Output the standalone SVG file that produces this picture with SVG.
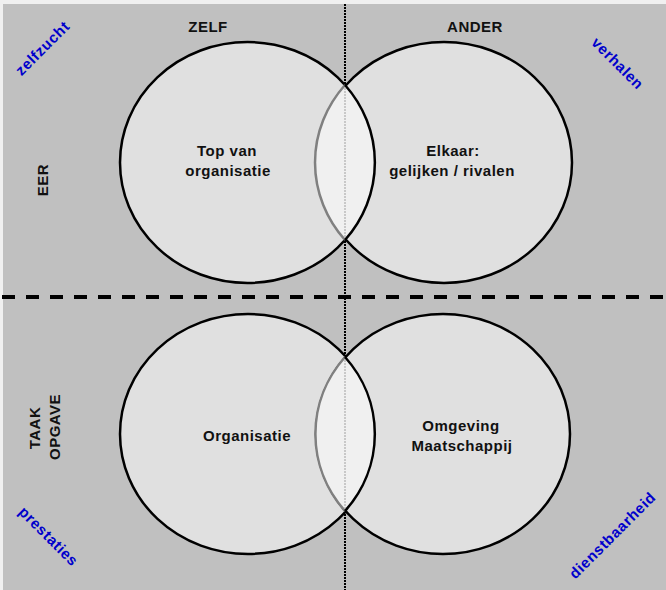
<svg xmlns="http://www.w3.org/2000/svg" width="666" height="590" viewBox="0 0 666 590">
<style>
.circ{fill:#e0e0e0;stroke:#000;stroke-width:2.5}
.lens{fill:#f0f0f0;stroke:none}
.garc{fill:none;stroke:#808080;stroke-width:2.5}
.barc{fill:none;stroke:#000;stroke-width:2.5}
.lbl{font-family:"Liberation Sans",Arial,sans-serif;font-weight:bold;font-size:15px;letter-spacing:0.5px;fill:#111;text-anchor:middle}
.blue{font-family:"Liberation Sans",Arial,sans-serif;font-weight:bold;font-size:15px;letter-spacing:0.6px;fill:#0000cc;text-anchor:middle}
</style>
<rect x="0" y="0" width="666" height="590" fill="#f0f0f0"/>
<rect x="3" y="4" width="663" height="586" fill="#c0c0c0"/>
<g id="vline"><line x1="345" y1="4" x2="345" y2="590" stroke="#000" stroke-width="2" stroke-dasharray="2 1"/></g>
<g id="top-left"><ellipse class="circ" cx="247.5" cy="162.5" rx="127.5" ry="120.5"/></g>
<g id="top-right"><ellipse class="circ" cx="444" cy="162.5" rx="128" ry="120.5"/></g>
<g id="top-lens">
<path class="lens" d="M345,85 A128,120.5 0 0 0 345,240 A127.5,120.5 0 0 0 345,85 Z"/>
<line x1="345" y1="88" x2="345" y2="237" stroke="#c8c8c8" stroke-width="2" stroke-dasharray="2 1"/>
<path class="garc" d="M345,85 A128,120.5 0 0 0 345,240"/>
<path class="barc" d="M345,240 A127.5,120.5 0 0 0 345,85"/>
</g>
<g id="bot-left"><ellipse class="circ" cx="248" cy="434" rx="128" ry="120"/></g>
<g id="bot-right"><ellipse class="circ" cx="443" cy="434" rx="127" ry="120"/></g>
<g id="bot-lens">
<path class="lens" d="M345,357 A127,120 0 0 0 345,511 A128,120 0 0 0 345,357 Z"/>
<line x1="345" y1="360" x2="345" y2="508" stroke="#c8c8c8" stroke-width="2" stroke-dasharray="2 1"/>
<path class="garc" d="M345,357 A127,120 0 0 0 345,511"/>
<path class="barc" d="M345,511 A128,120 0 0 0 345,357"/>
</g>
<g id="connectors">
<line x1="2" y1="297" x2="666" y2="297" stroke="#000" stroke-width="4" stroke-dasharray="13 11"/>
</g>
<g id="labels">
<text class="lbl" x="208" y="32">ZELF</text>
<text class="lbl" x="475" y="32">ANDER</text>
<text class="lbl" x="227" y="156">Top van</text>
<text class="lbl" x="228" y="176">organisatie</text>
<text class="lbl" x="453" y="156">Elkaar:</text>
<text class="lbl" x="452" y="176">gelijken / rivalen</text>
<text class="lbl" x="247" y="441">Organisatie</text>
<text class="lbl" x="461" y="431">Omgeving</text>
<text class="lbl" x="462" y="451">Maatschappij</text>
<text class="lbl" transform="translate(48,180) rotate(-90)">EER</text>
<text class="lbl" transform="translate(40,428) rotate(-90)">TAAK</text>
<text class="lbl" transform="translate(60,427) rotate(-90)">OPGAVE</text>
<text class="blue" transform="translate(46,52) rotate(-45)">zelfzucht</text>
<text class="blue" transform="translate(614,67) rotate(45)">verhalen</text>
<text class="blue" transform="translate(45,540) rotate(45)">prestaties</text>
<text class="blue" transform="translate(616,539) rotate(-45)">dienstbaarheid</text>
</g>
</svg>
